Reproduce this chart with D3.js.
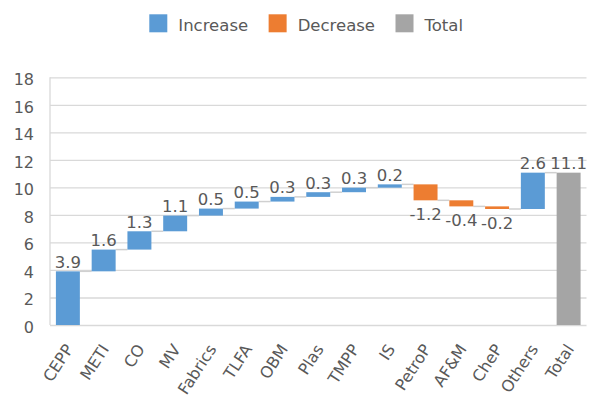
<!DOCTYPE html>
<html>
<head>
<meta charset="utf-8">
<script src="https://cdn.jsdelivr.net/npm/d3@7"></script>
<style>
  html, body { margin: 0; padding: 0; background: #fff; }
  svg { display: block; }
  text { font-family: "DejaVu Sans", Verdana, sans-serif; fill: #595959; }
</style>
</head>
<body>
<svg id="chart" width="591" height="413"></svg>
<script>
// Waterfall: contributions by sector, then the running total
const categories = ["CEPP", "METI", "CO", "MV", "Fabrics", "TLFA", "OBM", "Plas",
                    "TMPP", "IS", "PetroP", "AF&M", "CheP", "Others"];
const changes = [3.9, 1.58, 1.33, 1.14, 0.51, 0.51, 0.34, 0.34, 0.33, 0.24,
                 -1.16, -0.44, -0.19, 2.64];
const totalLabel = "Total";
const yTicks = [0, 2, 4, 6, 8, 10, 12, 14, 16, 18];
const legendItems = ["Increase", "Decrease", "Total"];
const colors = { Increase: "#5B9BD5", Decrease: "#ED7D31", Total: "#A5A5A5" };

// Build start/end of each floating bar
let running = 0;
const rows = categories.map((c, i) => {
  const start = running;
  running += changes[i];
  return { name: c, start, end: running, value: changes[i],
           kind: changes[i] >= 0 ? "Increase" : "Decrease" };
});
rows.push({ name: totalLabel, start: 0, end: running, value: running, kind: "Total" });

const svg = d3.select("#chart");
const margin = { left: 50, right: 4.5, top: 77.3, bottom: 88 };
const W = 591, H = 413;

const x = d3.scaleBand()
  .domain(rows.map(d => d.name))
  .range([margin.left, W - margin.right])
  .paddingInner(0.33)
  .paddingOuter(0.165);

const y = d3.scaleLinear()
  .domain([0, 18])
  .range([H - margin.bottom, margin.top]);

// Gridlines and y tick labels
const yAxis = svg.append("g")
  .attr("transform", `translate(${margin.left},0)`)
  .call(d3.axisLeft(y).tickValues(yTicks).tickSize(-(W - margin.right - margin.left)).tickPadding(16));
yAxis.select(".domain").remove();
yAxis.selectAll(".tick line").attr("stroke", "#D9D9D9").attr("stroke-width", 1.3);
yAxis.selectAll(".tick text")
  .attr("font-size", 16)
  .attr("fill", "#595959")
  .attr("dy", "0.45em")
  .style("font-family", "DejaVu Sans");

// Vertical axis line
svg.append("line")
  .attr("x1", margin.left).attr("x2", margin.left)
  .attr("y1", y(18)).attr("y2", y(0))
  .attr("stroke", "#D9D9D9").attr("stroke-width", 1.3);

// Connectors between consecutive bars
svg.append("g").selectAll("line")
  .data(rows.slice(0, -1))
  .join("line")
  .attr("x1", (d) => x(d.name) + x.bandwidth())
  .attr("x2", (d, i) => x(rows[i + 1].name))
  .attr("y1", d => y(d.end))
  .attr("y2", d => y(d.end))
  .attr("stroke", "#D0D0D0")
  .attr("stroke-width", 1.5);

// Bars
svg.append("g").selectAll("rect")
  .data(rows)
  .join("rect")
  .attr("x", d => x(d.name))
  .attr("width", x.bandwidth())
  .attr("y", d => y(Math.max(d.start, d.end)))
  .attr("height", d => Math.abs(y(d.start) - y(d.end)))
  .attr("fill", d => colors[d.kind]);

// Value labels: above for increases/total, below for decreases
svg.append("g").selectAll("text")
  .data(rows)
  .join("text")
  .attr("x", d => x(d.name) + x.bandwidth() / 2)
  .attr("y", d => d.kind === "Decrease" ? y(d.end) + 20 : y(d.end) - 3.5)
  .attr("text-anchor", "middle")
  .attr("font-size", 16.5)
  .text(d => d.value.toFixed(1));

// Rotated category labels
svg.append("g").selectAll("text")
  .data(rows)
  .join("text")
  .attr("transform", d => `translate(${x(d.name) + x.bandwidth() / 2 + 6},${y(0) + 24}) rotate(-57)`)
  .attr("text-anchor", "end")
  .attr("font-size", 16)
  .text(d => d.name);

// Legend
const legend = svg.append("g");
let lx = 149.3;
legendItems.forEach(name => {
  legend.append("rect")
    .attr("x", lx).attr("y", 14.3)
    .attr("width", 18).attr("height", 18)
    .attr("fill", colors[name]);
  const t = legend.append("text")
    .attr("x", lx + 29).attr("y", 31.3)
    .attr("font-size", 16.5)
    .text(name);
  lx += 29 + t.node().getComputedTextLength() + 20.5;
});
</script>
</body>
</html>
